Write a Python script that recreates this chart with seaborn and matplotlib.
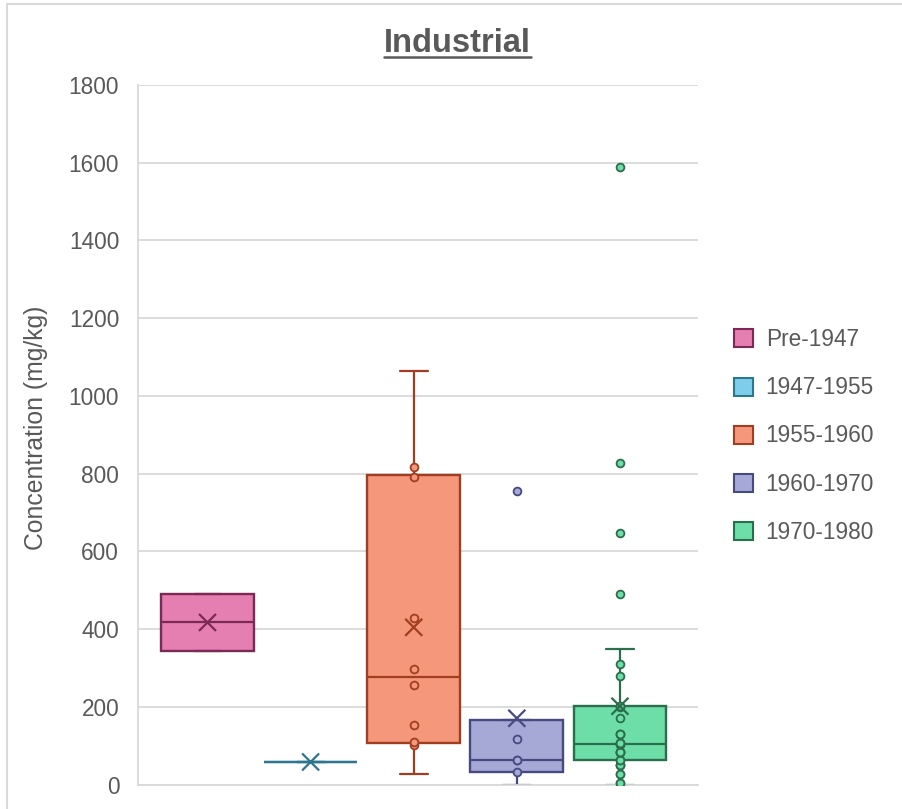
import numpy as np
import pandas as pd
import matplotlib
matplotlib.use("Agg")
import matplotlib.pyplot as plt
from matplotlib.patches import Patch, Rectangle
from matplotlib.lines import Line2D
import seaborn as sns

periods = ["Pre-1947", "1947-1955", "1955-1960", "1960-1970", "1970-1980"]
pre_1947 = [343, 491]
p1947_1955 = [58]
p1955_1960 = [26, 101, 109, 154, 257, 298, 429, 791, 817, 1063]
p1960_1970 = [0, 32, 62, 62, 118, 165, 754]
p1970_1980 = [0, 4, 4, 28, 28, 49, 49, 49, 62, 62, 83, 83, 83, 83, 103, 103, 103,
              103, 107, 107, 107, 129, 129, 129, 171, 199, 201, 201, 278, 310, 349,
              489, 647, 827, 1590]
show_points = [False, False, True, True, True]

fills = ["#E57EB1", "#7DCDEB", "#F5977A", "#A6A8D6", "#6EDEA9"]
edges = ["#7B2A55", "#2E7590", "#A13D20", "#474A80", "#2B6E4C"]
grey = "#595959"

sns.set_style("white")
plt.rcParams["font.family"] = ["Liberation Sans", "DejaVu Sans"]

groups = [pre_1947, p1947_1955, p1955_1960, p1960_1970, p1970_1980]
df = pd.concat([pd.DataFrame({"period": p, "value": v}) for p, v in zip(periods, groups)],
               ignore_index=True)


# Excel uses exclusive quartiles, numpy does not, so do it by hand
def quartile_exc(v, q):
    v = np.sort(v)
    n = len(v)
    pos = q * (n + 1)
    if pos <= 1:
        return v[0]
    if pos >= n:
        return v[-1]
    lo = int(np.floor(pos))
    return v[lo - 1] + (pos - lo) * (v[lo] - v[lo - 1])


def box_stats(v):
    v = np.asarray(v, dtype=float)
    q1, q3 = quartile_exc(v, 0.25), quartile_exc(v, 0.75)
    iqr = q3 - q1
    inside = v[(v >= q1 - 1.5 * iqr) & (v <= q3 + 1.5 * iqr)]
    return {"med": np.median(v), "q1": q1, "q3": q3,
            "whislo": inside.min(), "whishi": inside.max(),
            "fliers": v[(v < q1 - 1.5 * iqr) | (v > q3 + 1.5 * iqr)],
            "inside": np.sort(inside)}


# Excel marks every point except the two whisker ends
def shown_points(st):
    inner = list(st["inside"][1:-1]) if len(st["inside"]) > 2 else []
    return inner + list(st["fliers"])


fig = plt.figure(figsize=(9.02, 8.09), dpi=100)
ax = fig.add_axes([138 / 902, 1 - 784.5 / 809, (698 - 138) / 902, (784.5 - 85) / 809])

stats = [box_stats(v) for v in groups]
for i, st in enumerate(stats):
    ax.bxp([st], positions=[i], widths=0.9, capwidths=0.27,
           patch_artist=True, showfliers=False, manage_ticks=False,
           boxprops=dict(facecolor=fills[i], edgecolor=edges[i], linewidth=1.7),
           medianprops=dict(color=edges[i], linewidth=1.6),
           whiskerprops=dict(color=edges[i], linewidth=1.6),
           capprops=dict(color=edges[i], linewidth=1.6))

# inner points and outliers
for i, p in enumerate(periods):
    if not show_points[i]:
        continue
    pts = pd.DataFrame({"period": p, "value": shown_points(stats[i])})
    sns.stripplot(data=pts, x="period", y="value", order=periods,
                  jitter=False, color=fills[i], edgecolor=edges[i], linewidth=1.3,
                  size=5.6, zorder=3, ax=ax)

means = df.groupby("period", sort=False)["value"].mean().reindex(periods)
sns.scatterplot(x=np.arange(len(periods)), y=means.values, hue=periods,
                palette=dict(zip(periods, edges)), marker="x", s=150, linewidth=1.6,
                legend=False, zorder=4, ax=ax)

ax.set_xlim(-0.674, 4.757)
ax.set_ylim(0, 1800)
ax.set_yticks(np.arange(0, 1801, 200))
ax.set_xticks([])
ax.set_xlabel("")
ax.set_ylabel("")
ax.yaxis.grid(True, color="#D9D9D9", linewidth=1.3)
ax.set_axisbelow(True)
for s in ["top", "right"]:
    ax.spines[s].set_visible(False)
for s in ["left", "bottom"]:
    ax.spines[s].set_color("#D9D9D9")
    ax.spines[s].set_linewidth(1.3)
ax.tick_params(axis="y", length=0, pad=13.5, labelsize=16.3, labelcolor=grey)

fig.text(36 / 902, 1 - 428 / 809, "Concentration (mg/kg)", rotation=90,
         ha="center", va="center", fontsize=17.8, color=grey)

title = fig.text(457.5 / 902, 1 - 52 / 809, "Industrial", ha="center", va="baseline",
                 fontsize=23.5, fontweight="bold", color=grey)

handles = [Patch(facecolor=f, edgecolor=e, linewidth=1.5) for f, e in zip(fills, edges)]
fig.legend(handles, periods, loc="center left", bbox_to_anchor=(734 / 902, 1 - 436 / 809),
           frameon=False, fontsize=16.3, handlelength=0.85, handleheight=0.85,
           handletextpad=0.55, labelspacing=1.11, borderpad=0, borderaxespad=0,
           labelcolor=grey)

# chart area border (only left/top edges show in the crop)
fig.patches.append(Rectangle((7.5 / 902, -0.1), 1.2, 1.1 - 3.5 / 809, fill=False,
                             edgecolor="#D9D9D9", linewidth=1.5,
                             transform=fig.transFigure, figure=fig))

# underline the title
fig.canvas.draw()
bb = title.get_window_extent().transformed(fig.transFigure.inverted())
uy = 1 - 56.7 / 809
fig.add_artist(Line2D([bb.x0, bb.x1], [uy, uy], color=grey, linewidth=1.8,
                      transform=fig.transFigure))

fig.savefig("out.png", dpi=100)
